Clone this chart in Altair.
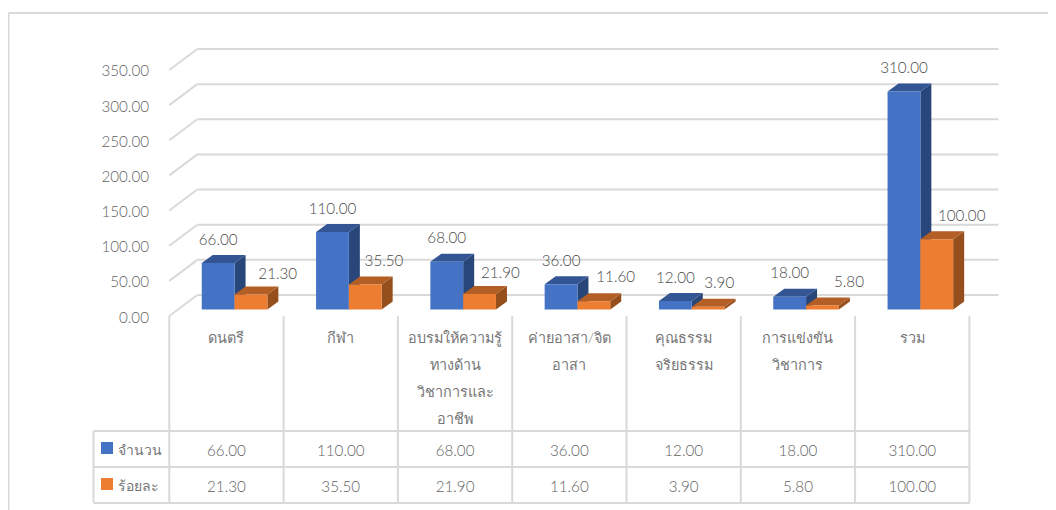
import altair as alt
import pandas as pd

category_lines = [["ดนตรี"], ["กีฬา"], ["อบรมให้ความรู้", "ทางด้าน", "วิชาการและ", "อาชีพ"],
                  ["ค่ายอาสา/จิต", "อาสา"], ["คุณธรรม", "จริยธรรม"], ["การแข่งขัน", "วิชาการ"], ["รวม"]]
amount = [66.0, 110.0, 68.0, 36.0, 12.0, 18.0, 310.0]
percent = [21.3, 35.5, 21.9, 11.6, 3.9, 5.8, 100.0]
series_names = ["จำนวน", "ร้อยละ"]
y_ticks = [0, 50, 100, 150, 200, 250, 300, 350]
pct_label_shift = [0.234, 0.164, 0.182, 0.191, 0.097, 0.232, 0.218]
pct_label_rise = [20.5, 24, 21, 24, 23.5, 23.7, 23]

FONT = "Lato"
GRID = "#d9d9d9"
TXT = "#5f5f5f"
LBL = "#484848"
THAI = "#767676"

W, H = 1040, 502
X0, CW = 161.3, 114.3      # plot px of category 0 edge, px per category
Y0, PV = 301.5, 0.7035     # plot px of value 0 at bar front, px per value unit
xdom = [-X0 / CW, (W - X0) / CW]
ydom = [(Y0 - H) / PV, Y0 / PV]
xs = alt.Scale(domain=xdom, range=[0, W], nice=False, zero=False)
ys = alt.Scale(domain=ydom, range=[H, 0], nice=False, zero=False)
X = lambda f="x": alt.X(f"{f}:Q", scale=xs, axis=None)
Y = lambda f="y": alt.Y(f"{f}:Q", scale=ys, axis=None)


def u(px_screen):
    return (px_screen - 8 - X0) / CW


def v(py_screen):
    return (Y0 - (py_screen - 8)) / PV


# ---- structural lines
segs = []


def seg(x1, y1, x2, y2):
    k = len(segs) // 2
    segs.append({"x": x1, "y": y1, "id": k})
    segs.append({"x": x2, "y": y2, "id": k})


wall_dx, wall_dy = 28 / CW, 21 / PV
front_zero = v(316)
for t in y_ticks:
    yf = front_zero + t * 0.7029 / PV
    seg(0, yf, wall_dx, yf + wall_dy)
    seg(wall_dx, yf + wall_dy, u(998.5), yf + wall_dy)
for i in range(8):
    seg(i, front_zero, i, v(503))
seg(u(93.5), v(431), 7, v(431))
seg(u(93.5), v(467), 7, v(467))
seg(u(93.5), v(503), 7, v(503))
seg(u(93.5), v(431), u(93.5), v(503))
seg(u(8.5), v(13), u(1048), v(13))
seg(u(8.5), v(13), u(8.5), v(510))
lines = alt.Chart(pd.DataFrame(segs)).mark_line(color=GRID, strokeWidth=2, strokeCap="butt", interpolate="linear").encode(
    x=X(), y=Y(), detail="id:N", order="id:Q")

# ---- 3D bars
BW = 32.8 / CW
L_OFF = 0.284
dx, dy = 11 / CW, 8 / PV


def bar_layers(vals, off, front, top, side):
    rects, tops, sides = [], [], []
    for i, val in enumerate(vals):
        a = i + off
        b = a + BW
        rects.append({"x": a, "x2": b, "y": 0, "y2": val})
        sides += [{"x": b, "y": 0, "y2": val, "k": i},
                  {"x": b + dx, "y": dy, "y2": val + dy, "k": i}]
        tops += [{"x": a, "y": val, "y2": val, "k": i},
                 {"x": a + dx, "y": val, "y2": val + dy, "k": i},
                 {"x": b, "y": val, "y2": val + dy, "k": i},
                 {"x": b + dx, "y": val + dy, "y2": val + dy, "k": i}]
    return [
        alt.Chart(pd.DataFrame(sides)).mark_area(color=side, interpolate="linear").encode(
            x=X(), y=Y(), y2="y2:Q", detail="k:N"),
        alt.Chart(pd.DataFrame(tops)).mark_area(color=top, interpolate="linear").encode(
            x=X(), y=Y(), y2="y2:Q", detail="k:N"),
        alt.Chart(pd.DataFrame(rects)).mark_rect(color=front).encode(
            x=X(), x2="x2:Q", y=Y(), y2="y2:Q"),
    ]


blue = bar_layers(amount, L_OFF, "#4472c4", "#335593", "#284679")
orange = bar_layers(percent, L_OFF + BW, "#ed7d31", "#b35e24", "#954f1c")


def text_layer(rows, align="center", color=TXT, size=15.2):
    return alt.Chart(pd.DataFrame(rows)).mark_text(
        font=FONT, fontSize=size, fontWeight=300, color=color, align=align, baseline="middle").encode(
        x=X(), y=Y(), text="t:N")


# data labels
lab = []
for i, (a, p) in enumerate(zip(amount, percent)):
    lab.append({"x": i + L_OFF + BW / 2, "y": a + 23.5 / PV, "t": f"{a:.2f}"})
    lab.append({"x": i + L_OFF + 1.5 * BW + pct_label_shift[i], "y": p + pct_label_rise[i] / PV, "t": f"{p:.2f}"})
labels = text_layer(lab, color=LBL)

# y labels
ylab = [{"x": u(149), "y": v(317.5) + t * 0.7029 / PV, "t": f"{t:.2f}"} for t in y_ticks]
ytext = text_layer(ylab, align="right")

# category labels
cat = []
for i, ls in enumerate(category_lines):
    for j, s in enumerate(ls):
        cat.append({"x": i + 0.5, "y": v(339 + 27 * j), "t": s})
cats = text_layer(cat, color=THAI, size=14.4)

# table
tab = []
for i in range(7):
    tab.append({"x": i + 0.5, "y": v(451), "t": f"{amount[i]:.2f}"})
    tab.append({"x": i + 0.5, "y": v(487), "t": f"{percent[i]:.2f}"})
tab_t = text_layer(tab)

names = text_layer([{"x": u(117.5), "y": v(451), "t": series_names[0]},
                    {"x": u(117.5), "y": v(487), "t": series_names[1]}], align="left", color=THAI, size=14)
sw = pd.DataFrame([
    {"x": u(101), "x2": u(113), "y": v(454), "y2": v(442), "c": series_names[0]},
    {"x": u(101), "x2": u(113), "y": v(490), "y2": v(478), "c": series_names[1]},
])
swatches = alt.Chart(sw).mark_rect().encode(
    x=X(), x2="x2:Q", y=Y(), y2="y2:Q",
    color=alt.Color("c:N", scale=alt.Scale(domain=series_names, range=["#4472c4", "#ed7d31"]), legend=None))

chart = alt.layer(lines, *blue, *orange, labels, ytext, cats, tab_t, names, swatches).properties(
    width=W, height=H, padding=0, background="white",
    autosize=alt.AutoSizeParams(type="none")
).configure_view(stroke=None)

chart.save("out.html", embed_options={"renderer": "svg", "actions": False})
